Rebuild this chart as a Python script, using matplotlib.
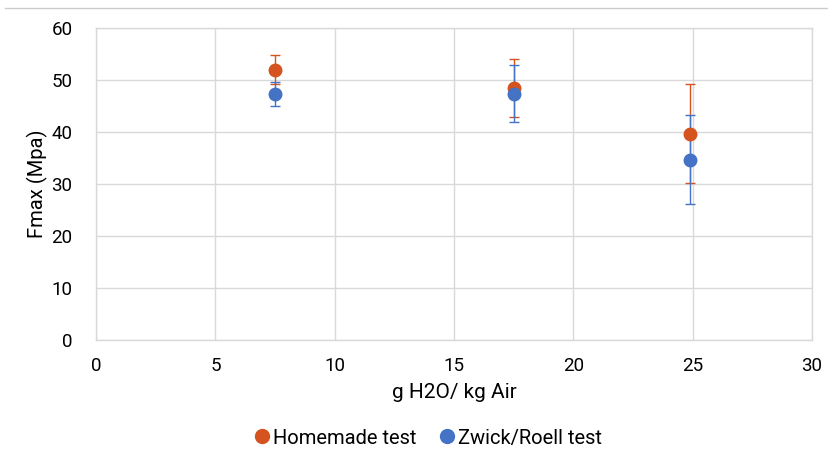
import matplotlib.pyplot as plt
from matplotlib.lines import Line2D

plt.rcParams['font.family'] = ['Roboto', 'DejaVu Sans']

# humidity (g H2O / kg air) and max stress per test rig
humidity = [7.5, 17.5, 24.9]
homemade_fmax = [52.0, 48.4, 39.7]
homemade_err = [2.75, 5.6, 9.55]
zwick_fmax = [47.3, 47.4, 34.7]
zwick_err = [2.3, 5.5, 8.5]

ORANGE = '#D5531F'
BLUE = '#4472C4'
GRID = '#d9d9d9'

fig = plt.figure(figsize=(8.29, 4.66), dpi=100)
ax = fig.add_axes([0.1158, 0.2704, 0.8637, 0.6695])

ax.errorbar(humidity, homemade_fmax, yerr=homemade_err, fmt='o', color=ORANGE,
            ms=9, elinewidth=1, capsize=3.5, capthick=1, label='Homemade test')
ax.errorbar(humidity, zwick_fmax, yerr=zwick_err, fmt='o', color=BLUE,
            ms=9, elinewidth=1, capsize=3.5, capthick=1, label='Zwick/Roell test')

ax.set_xlim(0, 30)
ax.set_ylim(0, 60)
ax.set_xticks(range(0, 31, 5))
ax.set_yticks(range(0, 61, 10))
ax.grid(True, color=GRID, linewidth=1)
ax.set_axisbelow(True)
for s in ax.spines.values():
    s.set_color(GRID)
    s.set_linewidth(1)
ax.tick_params(length=0, labelsize=13.5)
ax.tick_params(axis='x', pad=12)
ax.tick_params(axis='y', pad=17)

ax.set_xlabel('g H2O/ kg Air', fontsize=15, labelpad=6)
ax.set_ylabel('Fmax (Mpa)', fontsize=14.5, labelpad=2)

handles, labels = ax.get_legend_handles_labels()
handles = [Line2D([], [], marker='o', ls='', color=c, ms=10) for c in (ORANGE, BLUE)]
fig.legend(handles, labels, loc='center', bbox_to_anchor=(0.515, 0.06), ncol=2,
           frameon=False, fontsize=14.5, handletextpad=0.05, columnspacing=1.0,
           handlelength=1.0)

# thin rule along the top of the figure
fig.add_artist(Line2D([0.006, 1.0], [0.983, 0.983], color='#cccccc', lw=1))

fig.savefig('out.png', dpi=100)
